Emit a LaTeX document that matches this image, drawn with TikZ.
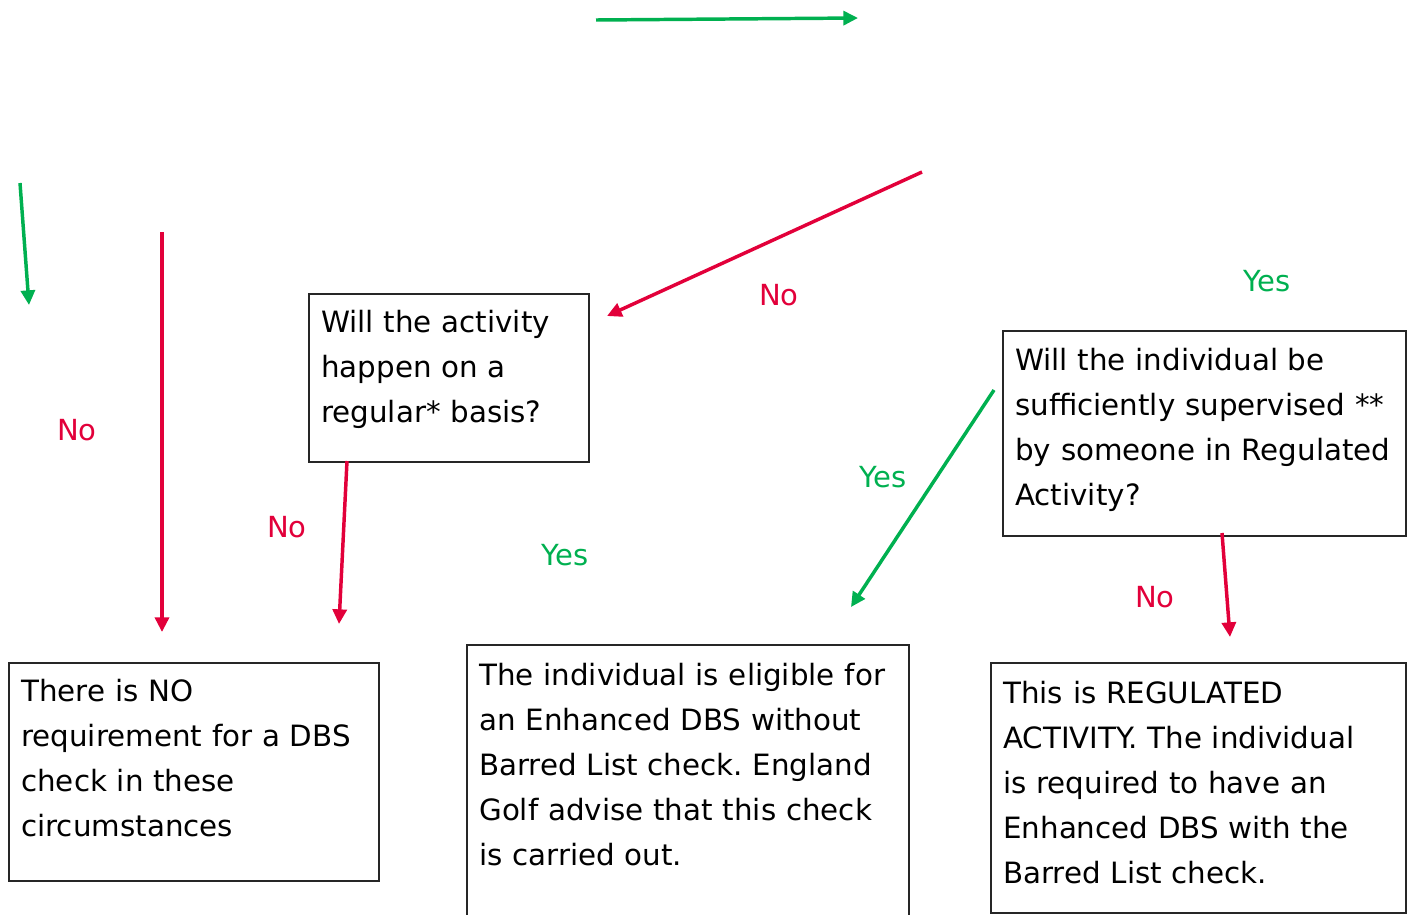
\documentclass[tikz,border=0pt]{standalone}
\usepackage{fontspec}
\setmainfont{DejaVu Sans}
\usetikzlibrary{arrows.meta}
\definecolor{yesgreen}{RGB}{0,176,80}
\definecolor{nored}{RGB}{226,0,58}
\frenchspacing
\tikzset{
  box/.style={draw=black!85, line width=1.5pt, inner sep=0pt},
  boxtext/.style={anchor=base west, inner sep=0pt, align=left, text width=#1,
    font=\fontsize{22}{33.75}\selectfont},
  lbl/.style={inner sep=0pt, font=\fontsize{21.8}{25}\selectfont},
  yesarrow/.style={draw=yesgreen, line width=2.6pt, -{Triangle[length=11pt,width=10.5pt]}},
  noarrow/.style={draw=nored, line width=2.6pt, -{Triangle[length=11pt,width=10.5pt]}},
}
\begin{document}
\begin{tikzpicture}[x=0.75pt,y=-0.75pt]
\useasboundingbox (0,0) rectangle (1413,914);
\clip (0,0) rectangle (1413,914);
% boxes
\node[box, anchor=north west, minimum width=280*0.75pt, minimum height=168*0.75pt] (b1) at (307.5,292.5) {};
\node[box, anchor=north west, minimum width=403*0.75pt, minimum height=205*0.75pt] (b2) at (1001.5,329.5) {};
\node[box, anchor=north west, minimum width=370*0.75pt, minimum height=218*0.75pt] (b3) at (7.5,661.5) {};
\node[box, anchor=north west, minimum width=442*0.75pt, minimum height=290*0.75pt] (b4) at (465.5,643.5) {};
\node[box, anchor=north west, minimum width=415*0.75pt, minimum height=250*0.75pt] (b5) at (989.5,661.5) {};
% texts
\node[boxtext=270*0.75pt] (t1) at (321,332) {Will the activity\\happen on a\\regular* basis?};
\node[boxtext=395*0.75pt] (t2) at (1015,370) {Will the individual be\\sufficiently supervised **\\by someone in Regulated\\Activity?};
\node[boxtext=360*0.75pt] (t3) at (21,701) {There is NO\\requirement for a DBS\\check in these\\circumstances};
\node[boxtext=425*0.75pt] (t4) at (479,685) {The individual is eligible for\\an Enhanced DBS without\\Barred List check. England\\Golf advise that this check\\is carried out.};
\node[boxtext=400*0.75pt] (t5) at (1003,703) {This is REGULATED\\ACTIVITY. The individual\\is required to have an\\Enhanced DBS with the\\Barred List check.};
% coordinates for free arrow ends
\coordinate (g1s) at (596,20);
\coordinate (g1e) at (858,18);
\coordinate (g2s) at (20,183);
\coordinate (g2e) at (29,305);
\coordinate (r1s) at (162,232);
\coordinate (r1e) at (162,632);
\coordinate (r2s) at (922,172);
\coordinate (r2e) at (607,316);
\coordinate (r3s) at (347,461);
\coordinate (r3e) at (339,624);
\coordinate (g3s) at (994,390);
\coordinate (g3e) at (851,607);
\coordinate (r4s) at (1222,533);
\coordinate (r4e) at (1230,637);
% arrows
\draw[yesarrow] (g1s) -- (g1e);
\draw[yesarrow] (g2s) -- (g2e);
\draw[noarrow] (r1s) -- (r1e);
\draw[noarrow] (r2s) -- (r2e);
\draw[noarrow] (r3s) -- (r3e);
\draw[yesarrow] (g3s) -- (g3e);
\draw[noarrow] (r4s) -- (r4e);
% labels
\node[lbl, text=nored] (l1) at (779,295) {No};
\node[lbl, text=yesgreen] (l2) at (1267,281) {Yes};
\node[lbl, text=nored] (l3) at (77,430) {No};
\node[lbl, text=nored] (l4) at (287,527) {No};
\node[lbl, text=yesgreen] (l5) at (565,555) {Yes};
\node[lbl, text=yesgreen] (l6) at (883,477) {Yes};
\node[lbl, text=nored] (l7) at (1155,597) {No};
\end{tikzpicture}
\end{document}
